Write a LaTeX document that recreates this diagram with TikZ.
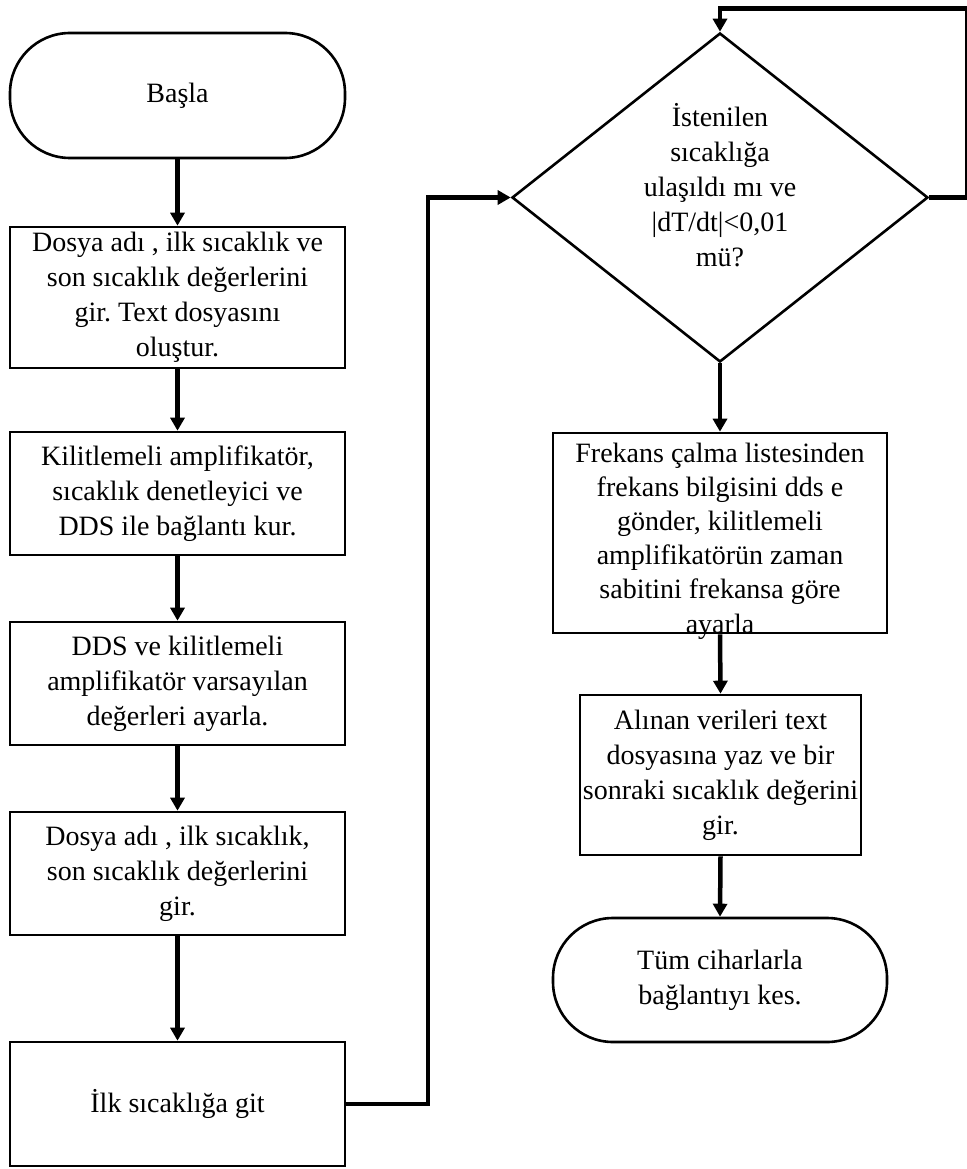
\documentclass[tikz,border=0pt]{standalone}
\usepackage{fontspec}
\setmainfont{Liberation Serif}
\usetikzlibrary{arrows.meta,shapes.geometric}
\frenchspacing

\begin{document}
\begin{tikzpicture}[x=1pt,y=-1pt,
  txt/.style={align=center,inner sep=0pt,font=\fontsize{28}{35}\selectfont},
  flowbox/.style={txt,draw,line width=2.6pt,minimum width=335pt},
  term/.style={flowbox,rounded corners=60pt},
  conn/.style={line width=4.5pt,-{Triangle[width=14pt,length=13pt]}}]

  % page frame
  \useasboundingbox (0,0) rectangle (966,1169);

  % left column
  \node[term,minimum height=125pt] (start) at (177.5,95.5) {Başla};
  \node[flowbox,minimum height=141pt] (b1) at (177.5,297.5)
    {Dosya adı , ilk sıcaklık ve\\son sıcaklık değerlerini\\gir. Text dosyasını\\oluştur.};
  \node[flowbox,minimum height=123pt] (b2) at (177.5,493.5)
    {Kilitlemeli amplifikatör,\\sıcaklık denetleyici ve\\DDS ile bağlantı kur.};
  \node[flowbox,minimum height=123pt] (b3) at (177.5,683.5)
    {DDS ve kilitlemeli\\amplifikatör varsayılan\\değerleri ayarla.};
  \node[flowbox,minimum height=123pt] (b4) at (177.5,873.5)
    {Dosya adı , ilk sıcaklık,\\son sıcaklık değerlerini\\gir.};
  \node[flowbox,minimum height=124pt] (b5) at (177.5,1104)
    {İlk sıcaklığa git};

  % right column
  \node[draw,diamond,line width=2.6pt,minimum width=416pt,minimum height=329pt,
        inner sep=0pt] (dec) at (720,197.5) {};
  \node[txt] (dectext) at (720,185)
    {İstenilen\\sıcaklığa\\ulaşıldı mı ve\\|dT/dt|<0,01\\mü?};
  \node[flowbox,minimum width=334pt,minimum height=200pt] (fr) at (720,533) {};
  \node[txt,font=\fontsize{28}{34.2}\selectfont] (frtext) at (720,541)
    {Frekans çalma listesinden\\frekans bilgisini dds e\\gönder, kilitlemeli\\amplifikatörün zaman\\sabitini frekansa göre\\ayarla};
  \node[flowbox,minimum width=281pt,minimum height=160pt] (al) at (720.5,775)
    {Alınan verileri text\\dosyasına yaz ve bir\\sonraki sıcaklık değerini\\gir.};
  \node[term,minimum width=334pt,minimum height=124pt] (stop) at (720,980)
    {Tüm ciharlarla\\bağlantıyı kes.};

  % routing points
  \coordinate (jog) at (428,197.5);
  \coordinate (loopR) at (967,197.5);
  \coordinate (loopT) at (967,8.5);

  % connectors
  \draw[conn] (start) -- (b1);
  \draw[conn] (b1) -- (b2);
  \draw[conn] (b2) -- (b3);
  \draw[conn] (b3) -- (b4);
  \draw[conn] (b4) -- (b5);
  \draw[conn] (b5.east) -| (jog) -- (dec.west);
  \draw[conn] (dec.east) -- (loopR) -- (loopT) -| (dec.north);
  \draw[conn] (dec.south) -- (fr.north);
  \draw[conn] (fr.south) -- (al.north);
  \draw[conn] (al.south) -- (stop.north);
\end{tikzpicture}
\end{document}
